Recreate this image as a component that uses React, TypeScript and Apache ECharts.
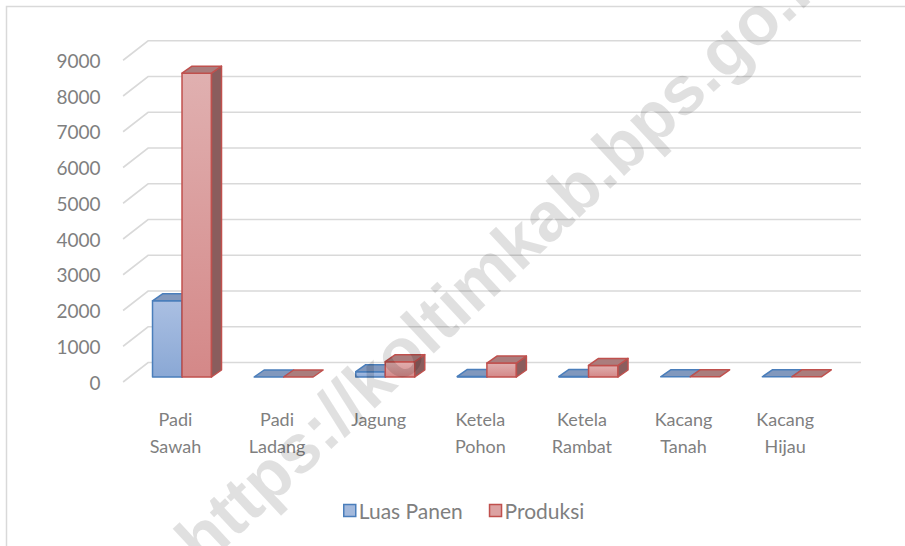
import React, { useEffect, useRef } from "react";
import * as echarts from "echarts";

const categories = [
  "Padi\nSawah",
  "Padi\nLadang",
  "Jagung",
  "Ketela\nPohon",
  "Ketela\nRambat",
  "Kacang\nTanah",
  "Kacang\nHijau",
];
const luasPanen = [2130, 0, 150, 15, 15, 5, 5];
const produksi = [8500, 0, 430, 390, 325, 5, 5];
const yTicks = [0, 1000, 2000, 3000, 4000, 5000, 6000, 7000, 8000, 9000];
const seriesNames = ["Luas Panen", "Produksi"];
const watermark = "https://koltimkab.bps.go.id";

// 3D projection constants (pixels)
const GRID_DX = 25;
const GRID_DY = -19.5;
const BAR_OFF_X = 6.6;
const BAR_OFF_Y = -5;
const BAR_DX = 10;
const BAR_DY = -7;
const BAR_W = 29.5;

const palette = [
  {
    top: "#aabfe2",
    bottom: "#8aa8d5",
    cap: "#8198bd",
    side: "#6b7f9e",
    stroke: "#4a7ebb",
    legend: "#a3b9dc",
  },
  {
    top: "#e0b0b0",
    bottom: "#d48888",
    cap: "#aa7d7d",
    side: "#8a5d5d",
    stroke: "#c0504d",
    legend: "#dca2a2",
  },
];

function makeBarRender(sIdx: number) {
  const c = palette[sIdx];
  return (params: any, api: any) => {
    const cat = api.value(0);
    const v = api.value(1);
    const base = api.coord([cat, 0]);
    const top = api.coord([cat, v]);
    const cx = base[0] + BAR_OFF_X;
    const y0 = base[1] + BAR_OFF_Y;
    const y1 = top[1] + BAR_OFF_Y;
    const x0 = sIdx === 0 ? cx - BAR_W : cx;
    const x1 = x0 + BAR_W;
    const stroke = { stroke: c.stroke, lineWidth: 1.5, lineJoin: "round" };
    const children: any[] = [];
    if (y0 - y1 > 0.5) {
      children.push({
        type: "rect",
        shape: { x: x0, y: y1, width: BAR_W, height: y0 - y1 },
        style: {
          fill: new echarts.graphic.LinearGradient(0, 0, 0, 1, [
            { offset: 0, color: c.top },
            { offset: 1, color: c.bottom },
          ]),
          ...stroke,
        },
      });
      children.push({
        type: "polygon",
        shape: {
          points: [
            [x1, y1],
            [x1 + BAR_DX, y1 + BAR_DY],
            [x1 + BAR_DX, y0 + BAR_DY],
            [x1, y0],
          ],
        },
        style: { fill: c.side, ...stroke },
      });
    }
    children.push({
      type: "polygon",
      shape: {
        points: [
          [x0, y1],
          [x0 + BAR_DX, y1 + BAR_DY],
          [x1 + BAR_DX, y1 + BAR_DY],
          [x1, y1],
        ],
      },
      style: { fill: c.cap, ...stroke },
    });
    return { type: "group", children };
  };
}

function gridRender(params: any, api: any) {
  const v = api.value(1);
  const p = api.coord([0, v]);
  const cs = params.coordSys;
  const x = cs.x - 1.5;
  const y = p[1];
  return {
    type: "polyline",
    shape: {
      points: [
        [x, y],
        [x + GRID_DX, y + GRID_DY],
        [cs.x + cs.width + GRID_DX, y + GRID_DY],
      ],
    },
    style: { stroke: "#d9d9d9", lineWidth: 1.6, fill: null },
  };
}

export default function App() {
  const ref = useRef<HTMLDivElement>(null);
  useEffect(() => {
    document.body.style.margin = "0";
    const chart = echarts.init(ref.current!, undefined, { renderer: "svg" });
    const font = "Lato, 'Noto Sans', sans-serif";
    chart.setOption({
      animation: false,
      backgroundColor: "#ffffff",
      grid: { left: 124.6, right: 69, top: 60.25, bottom: 164 },
      xAxis: {
        type: "category",
        data: categories,
        axisLine: { show: false },
        axisTick: { show: false },
        splitLine: { show: false },
        axisLabel: {
          interval: 0,
          color: "#7f7f7f",
          fontFamily: font,
          fontSize: 18,
          lineHeight: 27,
          margin: 23,
        },
      },
      yAxis: {
        type: "value",
        min: 0,
        max: 9000,
        interval: 1000,
        axisLine: { show: false },
        axisTick: { show: false },
        splitLine: { show: false },
        axisLabel: {
          color: "#7f7f7f",
          fontFamily: font,
          fontSize: 19,
          margin: 24,
          formatter: (v: number) => String(v),
        },
      },
      legend: {
        left: 343,
        top: 500,
        padding: 0,
        itemWidth: 12,
        itemHeight: 12,
        itemGap: 26,
        icon: "rect",
        textStyle: { color: "#7f7f7f", fontFamily: font, fontSize: 21, padding: [0, 0, 0, -2] },
        data: seriesNames.map((n, i) => ({
          name: n,
          itemStyle: {
            color: palette[i].legend,
            borderColor: palette[i].stroke,
            borderWidth: 1.5,
          },
        })),
      },
      graphic: [
        {
          type: "rect",
          shape: { x: 6.5, y: 6.5, width: 1200, height: 1200 },
          style: { fill: null, stroke: "#d9d9d9", lineWidth: 1.5 },
          z: -10,
          silent: true,
        },
        {
          type: "text",
          x: 508,
          y: 252,
          rotation: (43 * Math.PI) / 180,
          z: 100,
          silent: true,
          style: {
            text: watermark,
            fontSize: 69,
            fontWeight: "bold",
            fontFamily: "'Liberation Sans', Arial, sans-serif",
            fill: "rgba(0,0,0,0.12)",
            align: "center",
            verticalAlign: "middle",
          },
        },
      ],
      series: [
        {
          type: "custom",
          name: "grid",
          silent: true,
          z: 1,
          renderItem: gridRender,
          data: yTicks.map((t) => [0, t]),
        },
        {
          type: "custom",
          name: seriesNames[0],
          z: 2,
          itemStyle: { color: palette[0].legend },
          renderItem: makeBarRender(0),
          data: luasPanen.map((v, i) => [i, v]),
        },
        {
          type: "custom",
          name: seriesNames[1],
          z: 3,
          itemStyle: { color: palette[1].legend },
          renderItem: makeBarRender(1),
          data: produksi.map((v, i) => [i, v]),
        },
      ],
    });
    return () => chart.dispose();
  }, []);
  return <div ref={ref} style={{ width: 905, height: 546 }} />;
}
